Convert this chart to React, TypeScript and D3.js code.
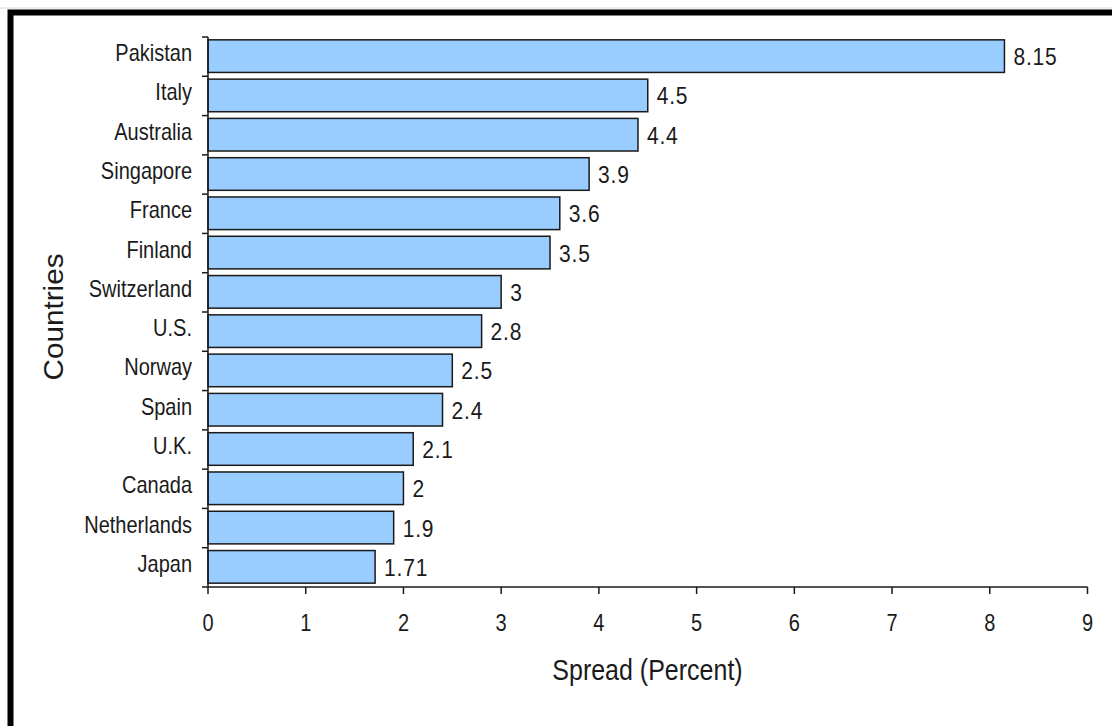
import React from "react";
import * as d3 from "d3";

const countries = [
  "Pakistan", "Italy", "Australia", "Singapore", "France", "Finland", "Switzerland",
  "U.S.", "Norway", "Spain", "U.K.", "Canada", "Netherlands", "Japan",
];
const spreads = [8.15, 4.5, 4.4, 3.9, 3.6, 3.5, 3, 2.8, 2.5, 2.4, 2.1, 2, 1.9, 1.71];
const valueLabels = ["8.15", "4.5", "4.4", "3.9", "3.6", "3.5", "3", "2.8", "2.5", "2.4", "2.1", "2", "1.9", "1.71"];
const xTicks = [0, 1, 2, 3, 4, 5, 6, 7, 8, 9];
const xTitle = "Spread (Percent)";
const yTitle = "Countries";

const W = 1112;
const H = 726;
const FONT = "'Liberation Sans', Arial, sans-serif";
const INK = "#1a1a1a";

function SText(props: {
  x: number; y: number; size: number; sy: number; anchor?: string; ls?: number; children: React.ReactNode;
}) {
  const { x, y, size, sy, anchor = "start", ls = 0, children } = props;
  return (
    <text
      transform={`translate(${x},${y}) scale(1,${sy})`}
      textAnchor={anchor}
      fontFamily={FONT}
      fontSize={size}
      letterSpacing={ls}
      fill={INK}
    >
      {children}
    </text>
  );
}

export default function App() {
  const x = d3.scaleLinear().domain([0, 9]).range([208, 1087.5]);
  const y = d3.scaleBand<string>().domain(countries).range([37, 587]).paddingInner(0.17).paddingOuter(0.085);
  const step = y.step();
  const boundaries = d3.range(countries.length + 1).map((i) => 37 + i * step);
  const mid = (c: string) => (y(c) as number) + y.bandwidth() / 2;

  return (
    <svg width={W} height={H} style={{ position: "absolute", left: 0, top: 0, background: "#fff" }}>
      <rect x={0} y={0} width={W} height={H} fill="#fff" />
      <line x1={0} x2={W} y1={8} y2={8} stroke="#d8d8d8" strokeWidth={1} />
      <rect x={10.5} y={12.5} width={W + 50} height={H + 50} fill="none" stroke="#000" strokeWidth={6} />

      {countries.map((c, i) => (
        <rect
          key={c}
          x={x(0)}
          y={(y(c) as number) - 0.5}
          width={x(spreads[i]) - x(0)}
          height={y.bandwidth()}
          fill="#99CCFF"
          stroke={INK}
          strokeWidth={1.5}
        />
      ))}

      {/* y axis */}
      <line x1={x(0)} x2={x(0)} y1={37} y2={587} stroke={INK} strokeWidth={1.5} />
      {boundaries.map((b, i) => (
        <line key={i} x1={x(0) - 6} x2={x(0)} y1={b} y2={b} stroke={INK} strokeWidth={1.5} />
      ))}
      {/* x axis */}
      <line x1={x(0)} x2={x(9)} y1={587} y2={587} stroke={INK} strokeWidth={1.5} />
      {xTicks.map((t) => (
        <g key={t}>
          <line x1={x(t)} x2={x(t)} y1={587} y2={594} stroke={INK} strokeWidth={1.5} />
          <SText x={x(t)} y={631} size={20} sy={1.2} anchor="middle">
            {t}
          </SText>
        </g>
      ))}

      {countries.map((c) => (
        <SText key={c} x={192} y={mid(c) + 4.5} size={20} sy={1.2} anchor="end">
          {c}
        </SText>
      ))}

      {countries.map((c, i) => (
        <SText key={c} x={x(spreads[i]) + 9} y={mid(c) + 8.5} size={21} sy={1.13} ls={0.8}>
          {valueLabels[i]}
        </SText>
      ))}

      <SText x={647.5} y={680} size={25} sy={1.2} anchor="middle">
        {xTitle}
      </SText>
      <text
        transform={`translate(63, 317) scale(1,1.1) rotate(-90)`}
        textAnchor="middle"
        fontFamily={FONT}
        fontSize={27}
        fill={INK}
      >
        {yTitle}
      </text>
    </svg>
  );
}
